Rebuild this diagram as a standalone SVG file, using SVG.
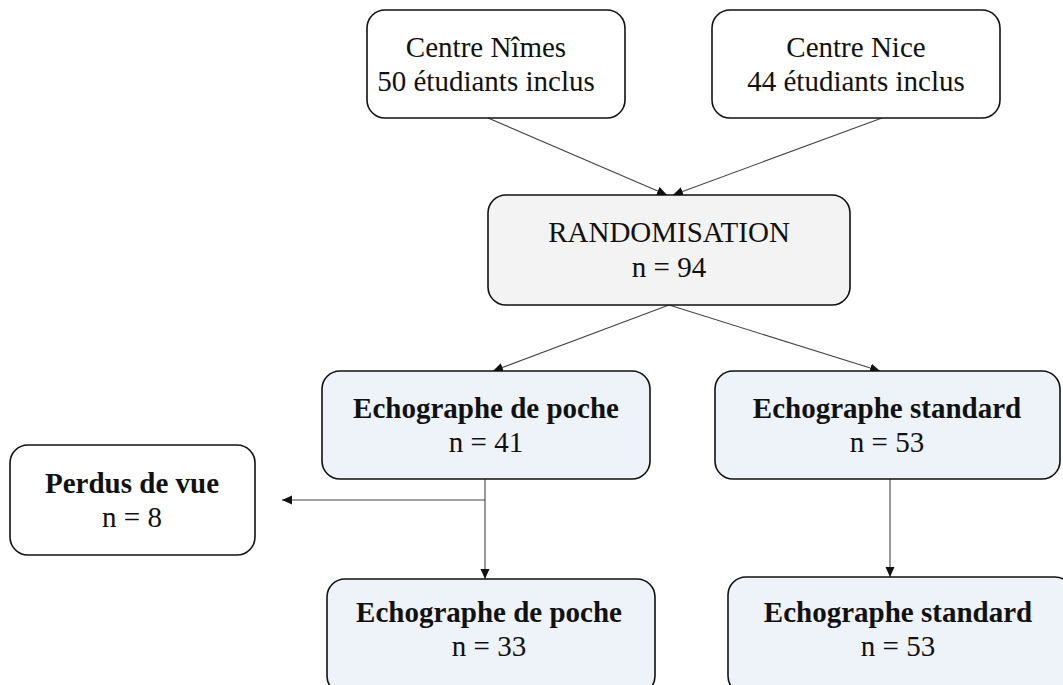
<svg xmlns="http://www.w3.org/2000/svg" width="1063" height="685" viewBox="0 0 1063 685">
<defs>
<marker id="ah" viewBox="0 0 10 10" refX="10" refY="5" markerWidth="10" markerHeight="10" markerUnits="userSpaceOnUse" orient="auto">
<path d="M0,0.5 L10,5 L0,9.5 z" fill="#111"/>
</marker>
<style>
.box{stroke:#111;stroke-width:1.6}
.w{fill:#fff}.g{fill:#f3f3f3}.b{fill:#eef2f9}
text{font-family:"Liberation Serif","Times New Roman",serif;font-size:29px;fill:#111;text-anchor:middle}
.bd{font-weight:bold}
.c{stroke:#444;stroke-width:1.1;fill:none;marker-end:url(#ah)}
</style>
</defs>
<rect width="1063" height="685" fill="#fff"/>
<g id="connectors">
<line class="c" x1="488" y1="118" x2="667" y2="195"/>
<line class="c" x1="882" y1="118" x2="673" y2="195"/>
<line class="c" x1="669" y1="305" x2="493" y2="371"/>
<line class="c" x1="669" y1="305" x2="880" y2="371"/>
<line class="c" x1="485" y1="479" x2="485" y2="579"/>
<line class="c" x1="485" y1="500" x2="282" y2="500"/>
<line class="c" x1="890" y1="479" x2="890" y2="577"/>
</g>
<g id="nimes">
<rect class="box w" x="367" y="10" width="258" height="108" rx="18"/>
<text x="486" y="57">Centre Nîmes</text>
<text x="486" y="91">50 étudiants inclus</text>
</g>
<g id="nice">
<rect class="box w" x="712" y="10" width="288" height="108" rx="18"/>
<text x="856" y="57">Centre Nice</text>
<text x="856" y="91">44 étudiants inclus</text>
</g>
<g id="randomisation">
<rect class="box g" x="488" y="195" width="362" height="110" rx="18"/>
<text x="669" y="242">RANDOMISATION</text>
<text x="669" y="277">n = 94</text>
</g>
<g id="poche1">
<rect class="box b" x="322" y="371" width="328" height="108" rx="18"/>
<text class="bd" x="486" y="418">Echographe de poche</text>
<text x="486" y="452">n = 41</text>
</g>
<g id="standard1">
<rect class="box b" x="715" y="371" width="345" height="108" rx="18"/>
<text class="bd" x="887" y="418">Echographe standard</text>
<text x="887" y="452">n = 53</text>
</g>
<g id="perdus">
<rect class="box w" x="10" y="445" width="245" height="110" rx="18"/>
<text class="bd" x="132" y="493">Perdus de vue</text>
<text x="132" y="527">n = 8</text>
</g>
<g id="poche2">
<rect class="box b" x="327" y="579" width="328" height="115" rx="18"/>
<text class="bd" x="489" y="622">Echographe de poche</text>
<text x="489" y="656">n = 33</text>
</g>
<g id="standard2">
<rect class="box b" x="728" y="577" width="345" height="117" rx="18"/>
<text class="bd" x="898" y="622">Echographe standard</text>
<text x="898" y="656">n = 53</text>
</g>
</svg>
